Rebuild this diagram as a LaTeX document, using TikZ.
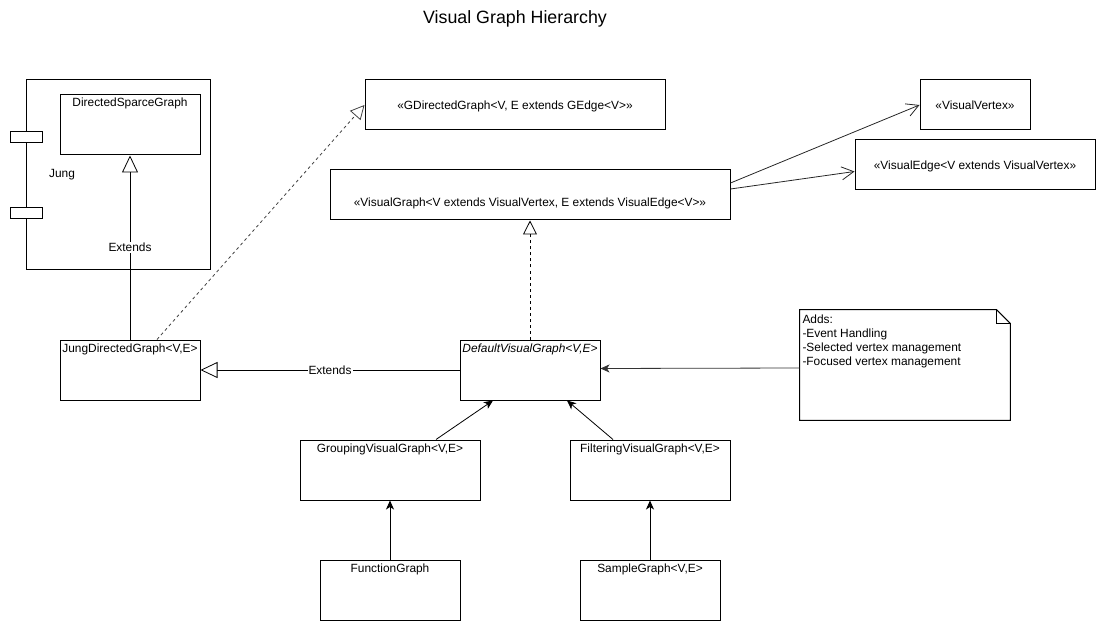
\documentclass[tikz,border=0pt]{standalone}
\usepackage{fontspec}
\setmainfont{Liberation Sans}
\usepackage{tikz}
\usetikzlibrary{positioning, arrows.meta}
\tikzstyle{diagram} = [x = 1pt, y = -1pt, line width = .8pt]
\tikzstyle{boxStyle} = [draw, rectangle, fill = white, inner sep = 0pt, line width = 1pt]
\tikzstyle{boxText} = [font = \fontsize{11.9}{14}\selectfont, inner sep = 0pt]
\tikzstyle{titleText} = [boxText, anchor = base]
\tikzstyle{extendsArrow} = [-{Triangle[open, length = 17pt, width = 16pt]}]
\tikzstyle{implementsArrow} = [-{Triangle[open, length = 14pt, width = 14pt]}, dash pattern = on 3pt off 3pt]
\tikzstyle{usesArrow} = [-{Straight Barb[length = 12pt, width = 13pt]}]
\tikzstyle{childArrow} = [-{Stealth[length = 9pt, width = 8pt, inset = 2.5pt]}]
\tikzstyle{lineLabel} = [boxText, fill = white, inner sep = 1pt]
\newcommand{\classBox}[6]{\node [boxStyle, minimum width = #4pt, minimum height = #5pt] (#1) at (#2, #3) {}; \node [titleText] (#1Title) at ([yshift = -12.5pt] #1.north) {#6};}
\newcommand{\stereoBox}[7]{\node [boxStyle, minimum width = #4pt, minimum height = #5pt] (#1) at (#2, #3) {}; \node [boxText] (#1Title) at ([yshift = #6pt] #1.center) {#7};}

\begin{document}
\begin{tikzpicture}[diagram]
  \useasboundingbox (0, 0) rectangle (1106, 631);
  \node [boxText, font = \fontsize{17.8}{20}\selectfont] (title) at (515, 19) {Visual Graph Hierarchy};

  \node [boxStyle, minimum width = 184pt, minimum height = 190pt] (jung) at (118, 175) {};
  \node [boxStyle, minimum width = 32pt, minimum height = 11pt] (jungPortA) at (26, 137) {};
  \node [boxStyle, minimum width = 32pt, minimum height = 11pt] (jungPortB) at (26, 213) {};
  \node [boxText] (jungText) at (62, 175) {Jung};

  \classBox{sparce}{130}{125}{140}{60}{DirectedSparceGraph}
  \classBox{jungGraph}{130}{370}{140}{60}{JungDirectedGraph<V,E>}
  \stereoBox{gGraph}{515}{105}{300}{50}{-1.5}{«GDirectedGraph<V, E extends GEdge<V>»}
  \stereoBox{visGraph}{530}{195}{400}{50}{-8.5}{«VisualGraph<V extends VisualVertex, E extends VisualEdge<V>»}
  \stereoBox{visVertex}{975}{105}{110}{50}{0}{«VisualVertex»}
  \stereoBox{visEdge}{975}{165}{240}{50}{-1}{«VisualEdge<V extends VisualVertex»}
  \classBox{defaultGraph}{530}{370}{140}{60}{\itshape DefaultVisualGraph<V,E>}
  \classBox{groupGraph}{390}{470}{180}{60}{GroupingVisualGraph<V,E>}
  \classBox{filterGraph}{650}{470}{160}{60}{FilteringVisualGraph<V,E>}
  \classBox{functionGraph}{390}{590}{140}{60}{FunctionGraph}
  \classBox{sampleGraph}{650}{590}{140}{60}{SampleGraph<V,E>}

  \node [minimum width = 210pt, minimum height = 110pt, inner sep = 0pt] (note) at (905, 365) {};
  \draw [line width = 1pt, fill = white] (note.north west) -- ([xshift = -14pt] note.north east) -- ([yshift = -14pt] note.north east) -- (note.south east) -- (note.south west) -- cycle;
  \draw [line width = 1pt] ([xshift = -14pt] note.north east) -- ([xshift = -14pt, yshift = -14pt] note.north east) -- ([yshift = -14pt] note.north east);
  \node [boxText, align = left, anchor = north west] (noteText) at ([xshift = 2.5pt, yshift = -4.8pt] note.north west) {Adds:\\-Event Handling\\-Selected vertex management\\-Focused vertex management};

  \draw [extendsArrow] (jungGraph.north) -- node [lineLabel] {Extends} (sparce.south);
  \draw [extendsArrow] (defaultGraph.west) -- node [lineLabel] {Extends} (jungGraph.east);
  \draw [implementsArrow, draw = black!75] ([xshift = 27pt] jungGraph.north) -- (gGraph.west);
  \draw [implementsArrow] (defaultGraph.north) -- (visGraph.south);
  \draw [usesArrow, draw = black!85] ([yshift = 12pt] visGraph.east) -- (visVertex.west);
  \draw [usesArrow, draw = black!85] ([yshift = 6pt] visGraph.east) -- ([yshift = -6.5pt] visEdge.west);
  \draw [childArrow, draw = black!80] ([yshift = -3pt] note.west) -- ([yshift = 1.5pt] defaultGraph.east);
  \draw [childArrow] ([xshift = 46pt] groupGraph.north) -- ([xshift = -37pt] defaultGraph.south);
  \draw [childArrow] ([xshift = -37pt] filterGraph.north) -- ([xshift = 37pt] defaultGraph.south);
  \draw [childArrow] (functionGraph.north) -- (groupGraph.south);
  \draw [childArrow] (sampleGraph.north) -- (filterGraph.south);
\end{tikzpicture}
\end{document}
